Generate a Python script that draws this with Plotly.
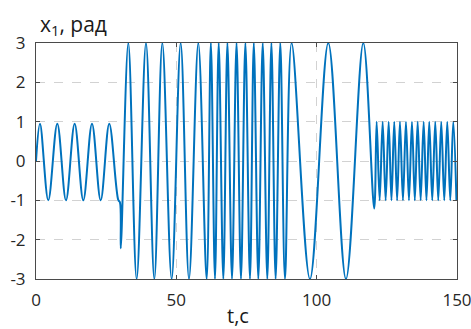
import plotly.graph_objects as go

# Turning points of the angle x1 (rad) over time t (s)
t = [
    0.00, 1.42, 4.38, 7.59, 10.68, 13.77, 16.85, 19.95, 23.04, 26.10,
    29.30, 29.90, 30.20,
    32.89, 35.86, 39.19, 42.16, 45.01, 48.33, 51.54, 54.51, 57.83, 60.80,
    62.30, 63.77, 65.10, 66.74, 68.20, 69.83, 71.45, 73.03, 74.60, 76.24,
    77.60, 79.21, 80.78, 82.41, 83.87, 85.38, 87.04, 88.71,
    91.08, 97.61, 104.14, 110.44, 116.61,
    120.50,
    121.37, 122.44, 123.51, 124.58, 125.65, 126.65, 127.64, 128.66,
    129.67, 130.74, 131.81, 132.88, 133.95, 134.97, 135.98, 137.05,
    138.12, 139.12, 140.11, 141.18, 142.25, 143.32, 144.39, 145.46,
    146.53, 147.60, 148.67, 149.80,
]
x1 = [
    0.00, 0.95, -1.00, 0.95, -1.00, 0.95, -1.00, 0.95, -1.00, 0.95,
    -0.99, -1.05, -2.22,
    3, -3, 3, -3, 3, -3, 3, -3, 3, -3,
    3, -3, 3, -3, 3, -3, 3, -3, 3, -3,
    3, -3, 3, -3, 3, -3, 3, -3,
    3, -3, 3, -3, 3,
    -1.21,
    1, -1, 1, -1, 1, -1, 1, -1,
    1, -1, 1, -1, 1, -1, 1, -1,
    1, -1, 1, -1, 1, -1, 1, -1,
    1, -1, 1, -1,
]

x_ticks = [0, 50, 100, 150]
y_ticks = [-3, -2, -1, 0, 1, 2, 3]

FONT = "Open Sans"
AX_COLOR = "#4a4a4a"
GRID_COLOR = "#d2d2d2"

fig = go.Figure()
fig.add_trace(go.Scatter(
    x=t, y=x1, mode="lines",
    line=dict(color="#0072BD", width=2, shape="spline", smoothing=1),
    hoverinfo="skip", showlegend=False,
))

axis_common = dict(
    showline=True, linecolor=AX_COLOR, linewidth=1, mirror="ticks",
    ticks="inside", ticklen=4, tickcolor=AX_COLOR, tickwidth=1,
    showgrid=True, gridcolor=GRID_COLOR, griddash="dash", gridwidth=1,
    zeroline=False, tickfont=dict(family=FONT, size=17, color="#262626"),
    ticklabelstandoff=6, ticklabeloverflow="allow", automargin=False,
)

fig.update_xaxes(range=[0, 150], tickvals=x_ticks,
                 ticktext=[str(v) for v in x_ticks], **axis_common)
fig.update_yaxes(range=[-3, 3], tickvals=y_ticks,
                 ticktext=[str(v) for v in y_ticks], **axis_common)

fig.add_annotation(
    text="x<sub>1</sub>, рад", xref="paper", yref="paper",
    x=0.005, y=1.075, xanchor="left", yanchor="middle", showarrow=False,
    font=dict(family=FONT, size=21, color="#1a1a1a"),
)
fig.add_annotation(
    text="t,c", xref="paper", yref="paper",
    x=0.48, y=-0.155, xanchor="center", yanchor="middle", showarrow=False,
    font=dict(family=FONT, size=20, color="#1a1a1a"),
)

fig.update_layout(
    width=471, height=329,
    margin=dict(l=36, r=14, t=43, b=50, autoexpand=False),
    paper_bgcolor="white", plot_bgcolor="white",
)

fig.write_html("out.html")
